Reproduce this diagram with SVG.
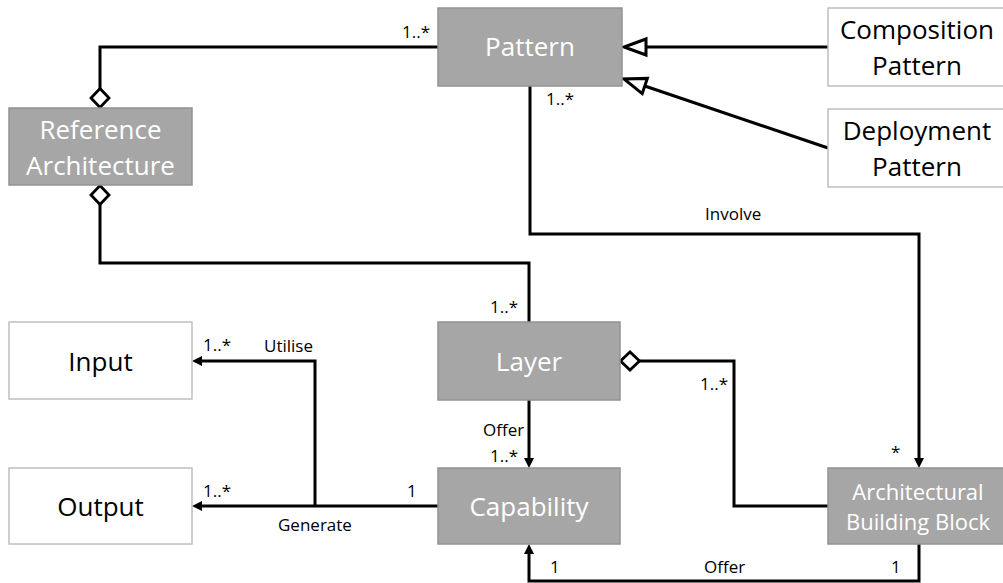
<svg xmlns="http://www.w3.org/2000/svg" width="1003" height="583" viewBox="0 0 1003 583">
<style>
.g rect{fill:#A6A6A6;stroke:#939393;stroke-width:1.5}
.w rect{fill:#FFFFFF;stroke:#BFBFBF;stroke-width:1.5}
.g text{fill:#FFFFFF;font-family:"Open Sans",sans-serif;font-size:26px;text-anchor:middle}
.w text{fill:#000000;font-family:"Open Sans",sans-serif;font-size:26px;text-anchor:middle}
#abb text{font-size:22px}
.c path{fill:none;stroke:#000000;stroke-width:3}
.lbl text{font-family:"Open Sans",sans-serif;font-size:17px;fill:#000000}
</style>
<defs>
<marker id="arr" markerUnits="userSpaceOnUse" markerWidth="10" markerHeight="10" refX="4" refY="5" orient="auto" overflow="visible">
<path d="M0,0 L10,5 L0,10 z" fill="#000"/>
</marker>
<marker id="tri" markerUnits="userSpaceOnUse" markerWidth="22" markerHeight="16" refX="0" refY="8" orient="auto" overflow="visible">
<path d="M0,0 L22,8 L0,16 z" fill="#fff" stroke="#000" stroke-width="3" stroke-linejoin="miter"/>
</marker>
<marker id="dia" markerUnits="userSpaceOnUse" markerWidth="21" markerHeight="20" refX="21" refY="10" orient="auto" overflow="visible">
<path d="M1.5,10 L11,1 L20.5,10 L11,19 z" fill="#fff" stroke="#000" stroke-width="2.8"/>
</marker>
</defs>

<g id="connectors" class="c">
<path d="M438,47 H100 V108" marker-end="url(#dia)"/>
<path d="M529,322 V263 H100 V185" marker-end="url(#dia)"/>
<path d="M530,86 V234 H919 V462" marker-end="url(#arr)"/>
<path d="M828,47 H646" marker-end="url(#tri)"/>
<path d="M828,148 L644.8,86" marker-end="url(#tri)"/>
<path d="M828,506 H734 V361 H620" marker-end="url(#dia)"/>
<path d="M529,400 V462" marker-end="url(#arr)"/>
<path d="M438,506 H198" marker-end="url(#arr)"/>
<path d="M315,506 V361 H198" marker-end="url(#arr)"/>
<path d="M919,544 V581 H529 V550" marker-end="url(#arr)"/>
</g>

<g id="labels" class="lbl">
<text x="402" y="38">1..*</text>
<text x="546" y="105">1..*</text>
<text x="705" y="220">Involve</text>
<text x="490" y="313">1..*</text>
<text x="700" y="390">1..*</text>
<text x="264" y="352">Utilise</text>
<text x="203" y="351">1..*</text>
<text x="203" y="497">1..*</text>
<text x="407" y="497">1</text>
<text x="278" y="531">Generate</text>
<text x="483" y="436">Offer</text>
<text x="490" y="462">1..*</text>
<text x="891" y="458">*</text>
<text x="550" y="573">1</text>
<text x="704" y="573">Offer</text>
<text x="891" y="573">1</text>
</g>

<g id="pattern" class="g">
<rect x="438" y="8" width="184" height="78"/>
<text x="530" y="56">Pattern</text>
</g>
<g id="refarch" class="g">
<rect x="9" y="108" width="183" height="77"/>
<text x="100.5" y="139">Reference</text>
<text x="100.5" y="175">Architecture</text>
</g>
<g id="composition" class="w">
<rect x="828" y="8" width="183" height="78"/>
<text x="917" y="39">Composition</text>
<text x="917" y="75">Pattern</text>
</g>
<g id="deployment" class="w">
<rect x="828" y="109" width="183" height="78"/>
<text x="917" y="140">Deployment</text>
<text x="917" y="176">Pattern</text>
</g>
<g id="layer" class="g">
<rect x="438" y="322" width="182" height="78"/>
<text x="529" y="371">Layer</text>
</g>
<g id="input" class="w">
<rect x="9" y="322" width="183" height="77"/>
<text x="100.5" y="371">Input</text>
</g>
<g id="output" class="w">
<rect x="9" y="468" width="183" height="76"/>
<text x="100.5" y="516">Output</text>
</g>
<g id="capability" class="g">
<rect x="438" y="468" width="182" height="76"/>
<text x="529" y="516">Capability</text>
</g>
<g id="abb" class="g">
<rect x="828" y="468" width="183" height="76"/>
<text x="918" y="500">Architectural</text>
<text x="918" y="530">Building Block</text>
</g>
</svg>
